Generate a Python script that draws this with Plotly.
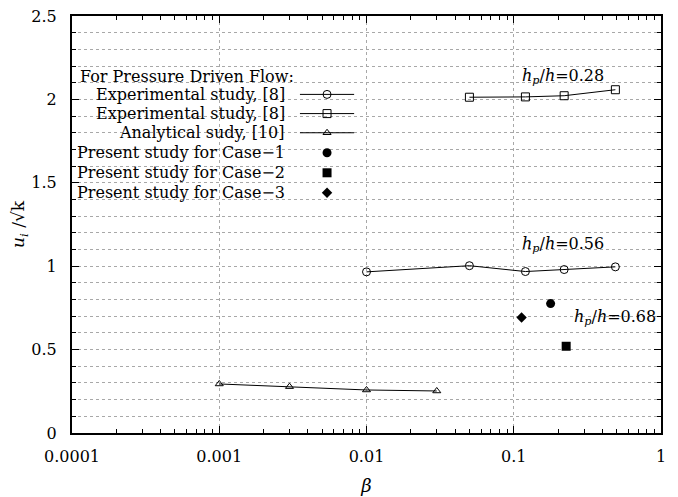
import plotly.graph_objects as go
import numpy as np

# Experimental study [8], hp/h = 0.56 (open circles)
exp_c_beta = [0.01, 0.05, 0.12, 0.22, 0.49]
exp_c_u = [0.966, 1.003, 0.968, 0.980, 0.996]
# Experimental study [8], hp/h = 0.28 (open squares)
exp_s_beta = [0.05, 0.12, 0.22, 0.49]
exp_s_u = [2.013, 2.015, 2.022, 2.058]
# Analytical study [10] (open triangles)
ana_beta = [0.001, 0.003, 0.01, 0.03]
ana_u = [0.294, 0.278, 0.258, 0.252]
# Present study
case1_beta, case1_u = [0.178], [0.776]
case2_beta, case2_u = [0.227], [0.520]
case3_beta, case3_u = [0.113], [0.692]

x_ticks = [0.0001, 0.001, 0.01, 0.1, 1]
x_tick_text = ["0.0001", "0.001", "0.01", "0.1", "1"]
x_minor = [m * 10.0 ** e for e in range(-4, 0) for m in range(2, 10)]

legend_labels = ["Experimental study, [8]", "Experimental study, [8]", "Analytical sudy, [10]",
                 "Present study for Case\u22121", "Present study for Case\u22122", "Present study for Case\u22123"]
legend_header = "For Pressure Driven Flow:"

FONT = "DejaVu Serif"
BLACK = "#000000"

fig = go.Figure()

def line_trace(x, y, symbol, size):
    fig.add_trace(go.Scatter(x=x, y=y, mode="lines+markers",
                             line=dict(color=BLACK, width=1),
                             marker=dict(symbol=symbol, size=size, color=BLACK,
                                         line=dict(color=BLACK, width=1)),
                             showlegend=False))

line_trace(exp_c_beta, exp_c_u, "circle-open", 8)
line_trace(exp_s_beta, exp_s_u, "square-open", 8)
line_trace(ana_beta, ana_u, "triangle-up-open", 7)

for x, y, sym, sz in [(case1_beta, case1_u, "circle", 9),
                      (case2_beta, case2_u, "square", 9),
                      (case3_beta, case3_u, "diamond", 8)]:
    fig.add_trace(go.Scatter(x=x, y=y, mode="markers",
                             marker=dict(symbol=sym, size=sz, color=BLACK),
                             showlegend=False))

# Manual legend (gnuplot-style: text then sample) on an overlay paper-like axis
row_y = [0.812, 0.766, 0.720, 0.672, 0.624, 0.576]
styles = [("circle-open", 8, True), ("square-open", 8, True), ("triangle-up-open", 7, True),
          ("circle", 9, False), ("square", 9, False), ("diamond", 8, False)]
for yy, (sym, sz, has_line) in zip(row_y, styles):
    if has_line:
        fig.add_trace(go.Scatter(x=[0.387, 0.479], y=[yy, yy], mode="lines",
                                 line=dict(color=BLACK, width=1), xaxis="x2", yaxis="y2",
                                 showlegend=False, hoverinfo="skip"))
        fig.add_trace(go.Scatter(x=[0.433], y=[yy], mode="markers",
                                 marker=dict(symbol=sym, size=sz, color=BLACK,
                                             line=dict(color=BLACK, width=1)),
                                 xaxis="x2", yaxis="y2", showlegend=False, hoverinfo="skip"))
    else:
        fig.add_trace(go.Scatter(x=[0.433], y=[yy], mode="markers",
                                 marker=dict(symbol=sym, size=sz, color=BLACK),
                                 xaxis="x2", yaxis="y2", showlegend=False, hoverinfo="skip"))

# invisible trace to activate the minor-tick overlay axis
fig.add_trace(go.Scatter(x=[0.5], y=[1], mode="markers", marker=dict(size=0.1, opacity=0),
                         xaxis="x3", yaxis="y", showlegend=False, hoverinfo="skip"))

LEG_SIZE = 16
annotations = [dict(x=0.010, y=0.854, xref="x2", yref="y2", text=legend_header,
                    xanchor="left", yanchor="middle", showarrow=False,
                    font=dict(family=FONT, size=LEG_SIZE, color=BLACK))]
for yy, lab in zip(row_y, legend_labels):
    annotations.append(dict(x=0.365, y=yy, xref="x2", yref="y2", text=lab,
                            xanchor="right", yanchor="middle", showarrow=False,
                            font=dict(family=FONT, size=LEG_SIZE, color=BLACK)))

hp = "<i>h</i><sub><i>p</i></sub>/<i>h</i>="
for xv, yv, val in [(0.11, 2.14, "0.28"), (0.11, 1.13, "0.56"), (0.25, 0.69, "0.68")]:
    annotations.append(dict(x=np.log10(xv), y=yv, xref="x", yref="y", text=hp + val,
                            xanchor="left", yanchor="middle", showarrow=False,
                            font=dict(family=FONT, size=16, color=BLACK)))

grid = dict(gridcolor="#a8a8a8", griddash="dot", gridwidth=1)

fig.update_layout(
    width=678, height=497,
    margin=dict(l=72, r=17, t=16, b=64),
    paper_bgcolor="white", plot_bgcolor="white",
    font=dict(family=FONT, size=16, color=BLACK),
    annotations=annotations,
    xaxis=dict(type="log", range=[-4, 0], tickvals=x_ticks, ticktext=x_tick_text,
               ticks="inside", ticklen=7, tickcolor=BLACK, ticklabelstandoff=8,
               showline=True, linecolor=BLACK, linewidth=2, mirror="ticks",
               showgrid=True, **grid, zeroline=False, automargin=False,
               title=dict(text="<i>β</i>", font=dict(family=FONT, size=18), standoff=14),
               tickfont=dict(family=FONT, size=16)),
    xaxis3=dict(type="log", range=[-4, 0], overlaying="x", anchor="y", side="bottom",
                tickvals=x_minor, showticklabels=False, ticks="inside", ticklen=4,
                tickcolor=BLACK, showline=False, mirror="ticks", showgrid=False,
                zeroline=False, fixedrange=True),
    yaxis=dict(range=[0, 2.5], tickvals=[0, 0.5, 1, 1.5, 2, 2.5],
               ticktext=["0", "0.5", "1", "1.5", "2", "2.5"],
               ticks="inside", ticklen=7, tickcolor=BLACK, ticklabelstandoff=10,
               showline=True, linecolor=BLACK, linewidth=2, mirror="ticks",
               showgrid=True, **grid, zeroline=False, automargin=False,
               minor=dict(ticks="inside", ticklen=4, tickcolor=BLACK, dtick=0.1,
                          showgrid=True, **grid),
               title=dict(text="<i>u</i><sub><i>i</i></sub> /√k", font=dict(family=FONT, size=17), standoff=2),
               tickfont=dict(family=FONT, size=16)),
    xaxis2=dict(overlaying="x", range=[0, 1], visible=False, fixedrange=True),
    yaxis2=dict(overlaying="y", range=[0, 1], visible=False, fixedrange=True),
)

fig.write_html("out.html")
